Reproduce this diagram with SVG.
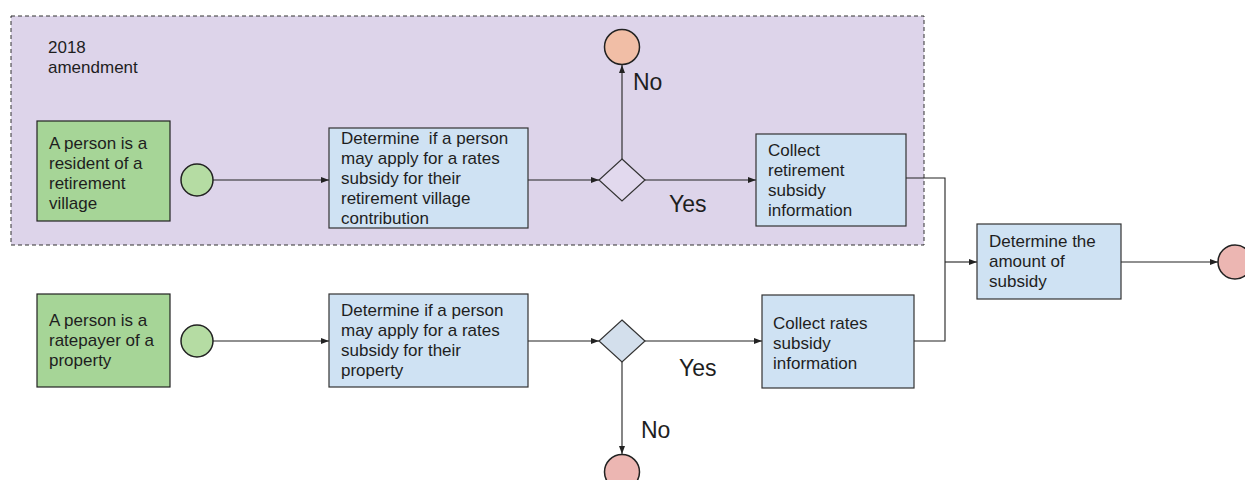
<svg xmlns="http://www.w3.org/2000/svg" width="1245" height="480" viewBox="0 0 1245 480">
  <defs>
    <marker id="arrow" viewBox="0 0 8 6" refX="8" refY="3" markerWidth="8" markerHeight="6" markerUnits="userSpaceOnUse" orient="auto">
      <path d="M0,0 L8,3 L0,6 z" fill="#222"/>
    </marker>
    <style>
      .txt { font-family: "Liberation Sans", Arial, sans-serif; font-size: 17px; fill: #1e1e1e; }
      .lbl { font-family: "Liberation Sans", Arial, sans-serif; font-size: 23px; fill: #1e1e1e; }
      .start { fill: #a6d597; stroke: #222; stroke-width: 1.2; }
      .task { fill: #cfe2f3; stroke: #333; stroke-width: 1.2; }
      .gate { fill: #d3dfec; stroke: #333; stroke-width: 1.2; }
      .gate-in { fill: #e2d9ee; stroke: #333; stroke-width: 1.2; }
      .ev-start { fill: #b5dca3; stroke: #222; stroke-width: 1.5; }
      .ev-end { fill: #ecb6b2; stroke: #222; stroke-width: 1.5; }
      .ev-stop { fill: #f1bea6; stroke: #222; stroke-width: 1.5; }
      .conn { fill: none; stroke: #222; stroke-width: 1.1; }
    </style>
  </defs>

  <rect width="1245" height="480" fill="#ffffff"/>

  <!-- amendment region -->
  <g id="amendment">
    <rect x="11" y="16" width="913" height="229" fill="#ddd4ea" stroke="#333" stroke-width="1" stroke-dasharray="4 3"/>
    <text class="txt" x="48" y="53">2018</text>
    <text class="txt" x="48" y="73">amendment</text>
  </g>

  <!-- connectors -->
  <g id="connectors">
    <line class="conn" x1="213" y1="180" x2="329" y2="180" marker-end="url(#arrow)"/>
    <line class="conn" x1="528" y1="180" x2="599" y2="180" marker-end="url(#arrow)"/>
    <line class="conn" x1="622" y1="159" x2="622" y2="65" marker-end="url(#arrow)"/>
    <line class="conn" x1="645" y1="180" x2="756" y2="180" marker-end="url(#arrow)"/>
    <line class="conn" x1="213" y1="341" x2="329" y2="341" marker-end="url(#arrow)"/>
    <line class="conn" x1="528" y1="341" x2="599" y2="341" marker-end="url(#arrow)"/>
    <line class="conn" x1="622" y1="362" x2="622" y2="454" marker-end="url(#arrow)"/>
    <line class="conn" x1="645" y1="341" x2="762" y2="341" marker-end="url(#arrow)"/>
    <polyline class="conn" points="906,178 945,178 945,341 914,341"/>
    <line class="conn" x1="945" y1="262" x2="977" y2="262" marker-end="url(#arrow)"/>
    <line class="conn" x1="1121" y1="262" x2="1218" y2="262" marker-end="url(#arrow)"/>
  </g>

  <!-- upper lane -->
  <g id="resident">
    <rect class="start" x="37" y="121" width="133" height="100"/>
    <text class="txt" x="49" y="149">A person is a</text>
    <text class="txt" x="49" y="169">resident of a</text>
    <text class="txt" x="49" y="189">retirement</text>
    <text class="txt" x="49" y="209">village</text>
  </g>
  <g id="start-resident">
    <circle class="ev-start" cx="197" cy="180" r="16"/>
  </g>
  <g id="check-village">
    <rect class="task" x="329" y="128" width="199" height="100"/>
    <text class="txt" x="341" y="144" xml:space="preserve">Determine  if a person</text>
    <text class="txt" x="341" y="164">may apply for a rates</text>
    <text class="txt" x="341" y="184">subsidy for their</text>
    <text class="txt" x="341" y="204">retirement village</text>
    <text class="txt" x="341" y="224">contribution</text>
  </g>
  <g id="gate-village">
    <polygon class="gate-in" points="622,159 645,180 622,201 599,180"/>
  </g>
  <g id="stop-village">
    <circle class="ev-stop" cx="622" cy="47" r="17.5"/>
  </g>
  <text class="lbl" x="633" y="90">No</text>
  <text class="lbl" x="669" y="212">Yes</text>
  <g id="collect-village">
    <rect class="task" x="756" y="134" width="150" height="92"/>
    <text class="txt" x="768" y="156">Collect</text>
    <text class="txt" x="768" y="176">retirement</text>
    <text class="txt" x="768" y="196">subsidy</text>
    <text class="txt" x="768" y="216">information</text>
  </g>

  <!-- lower lane -->
  <g id="ratepayer">
    <rect class="start" x="37" y="294" width="133" height="93"/>
    <text class="txt" x="49" y="326">A person is a</text>
    <text class="txt" x="49" y="346">ratepayer of a</text>
    <text class="txt" x="49" y="366">property</text>
  </g>
  <g id="start-ratepayer">
    <circle class="ev-start" cx="197" cy="341" r="16"/>
  </g>
  <g id="check-property">
    <rect class="task" x="329" y="294" width="199" height="93"/>
    <text class="txt" x="341" y="316">Determine if a person</text>
    <text class="txt" x="341" y="336">may apply for a rates</text>
    <text class="txt" x="341" y="356">subsidy for their</text>
    <text class="txt" x="341" y="376">property</text>
  </g>
  <g id="gate-property">
    <polygon class="gate" points="622,320 645,341 622,362 599,341"/>
  </g>
  <g id="stop-property">
    <circle class="ev-end" cx="622" cy="472" r="17.5"/>
  </g>
  <text class="lbl" x="641" y="438">No</text>
  <text class="lbl" x="679" y="376">Yes</text>
  <g id="collect-property">
    <rect class="task" x="762" y="295" width="152" height="93"/>
    <text class="txt" x="773" y="329">Collect rates</text>
    <text class="txt" x="773" y="349">subsidy</text>
    <text class="txt" x="773" y="369">information</text>
  </g>

  <!-- merge -->
  <g id="amount">
    <rect class="task" x="977" y="224" width="144" height="75"/>
    <text class="txt" x="989" y="247">Determine the</text>
    <text class="txt" x="989" y="267">amount of</text>
    <text class="txt" x="989" y="287">subsidy</text>
  </g>
  <g id="end">
    <circle class="ev-end" cx="1235" cy="262" r="17"/>
  </g>
</svg>
